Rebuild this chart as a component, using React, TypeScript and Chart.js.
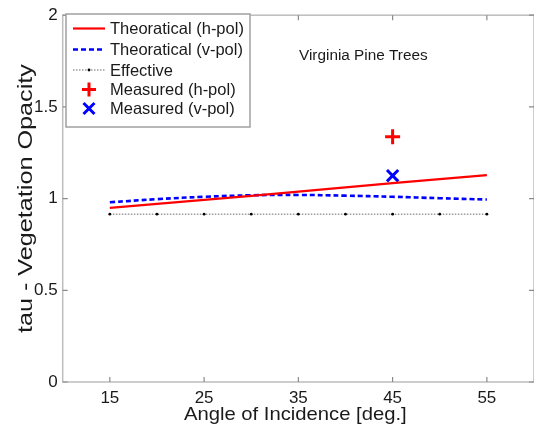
import React, { useEffect, useRef } from "react";
import { Chart, registerables } from "chart.js";

Chart.register(...registerables);

const angles = [15, 20, 25, 30, 35, 40, 45, 50, 55];
const hPol = [0.949, 0.971, 0.993, 1.015, 1.038, 1.061, 1.084, 1.106, 1.128];
const vPol = [0.98, 0.997, 1.01, 1.018, 1.02, 1.016, 1.01, 1.002, 0.995];
const effective = [0.915, 0.915, 0.915, 0.915, 0.915, 0.915, 0.915, 0.915, 0.915];
const measuredAngle = [45];
const measuredH = [1.337];
const measuredV = [1.125];
const xTicks = [15, 25, 35, 45, 55];
const yTicks = [0, 0.5, 1, 1.5, 2];
const xTitle = "Angle of Incidence [deg.]";
const yTitle = "tau - Vegetation Opacity";
const annotation = "Virginia Pine Trees";

const FONT = "'Liberation Sans', Arial, Helvetica, sans-serif";
const TEXT = "#1a1a1a";

function stretchedText(ctx: any, text: string, x: number, y: number, size: number, sx: number, rot = 0) {
  ctx.save();
  ctx.translate(x, y);
  if (rot) ctx.rotate(rot);
  ctx.scale(sx, 1);
  ctx.font = `${size}px ${FONT}`;
  ctx.fillStyle = TEXT;
  ctx.textAlign = "center";
  ctx.textBaseline = "alphabetic";
  ctx.fillText(text, 0, 0);
  ctx.restore();
}

const framePlugin = {
  id: "frame",
  afterDatasetsDraw(chart: any) {
    const { ctx, chartArea: a, scales } = chart;
    const xs = scales.x;
    const ys = scales.y;
    ctx.save();
    ctx.strokeStyle = "#bdbdbd";
    ctx.lineWidth = 1.5;
    ctx.strokeRect(a.left, a.top, a.right - a.left, a.bottom - a.top);
    ctx.lineWidth = 1.2;
    ctx.strokeStyle = "#8a8a8a";
    const tl = 5;
    ctx.beginPath();
    for (const v of xTicks) {
      const px = xs.getPixelForValue(v);
      ctx.moveTo(px, a.bottom);
      ctx.lineTo(px, a.bottom - tl);
      ctx.moveTo(px, a.top);
      ctx.lineTo(px, a.top + tl);
    }
    for (const v of yTicks) {
      const py = ys.getPixelForValue(v);
      ctx.moveTo(a.left, py);
      ctx.lineTo(a.left + tl, py);
      ctx.moveTo(a.right, py);
      ctx.lineTo(a.right - tl, py);
    }
    ctx.stroke();
    ctx.restore();
  },
};

const textPlugin = {
  id: "texts",
  afterDraw(chart: any) {
    const { ctx, chartArea: a } = chart;
    const ds = chart.data.datasets;
    ctx.save();
    // legend
    const bx = 66, by = 14, bw = 184, bh = 113;
    ctx.fillStyle = "#ffffff";
    ctx.fillRect(bx, by, bw, bh);
    ctx.strokeStyle = "#a0a0a0";
    ctx.lineWidth = 1.5;
    ctx.strokeRect(bx, by, bw, bh);
    ctx.font = `16.5px ${FONT}`;
    ctx.textBaseline = "middle";
    ctx.textAlign = "left";
    const rows = [28.5, 49.5, 70, 89.5, 108.5];
    ds.forEach((d: any, i: number) => {
      const y = rows[i];
      const x0 = 73, x1 = 105, xm = 89;
      if (i < 3) {
        ctx.save();
        ctx.strokeStyle = d.borderColor;
        ctx.lineWidth = d.borderWidth;
        ctx.setLineDash(d.borderDash || []);
        ctx.beginPath();
        ctx.moveTo(x0, y);
        ctx.lineTo(x1, y);
        ctx.stroke();
        ctx.restore();
        if (i === 2) {
          ctx.fillStyle = "#000";
          ctx.beginPath();
          ctx.arc(xm, y, 1.4, 0, Math.PI * 2);
          ctx.fill();
        }
      } else {
        ctx.save();
        ctx.strokeStyle = d.borderColor;
        ctx.lineWidth = 3;
        ctx.beginPath();
        if (d.pointStyle === "cross") {
          ctx.moveTo(xm - 7, y);
          ctx.lineTo(xm + 7, y);
          ctx.moveTo(xm, y - 7);
          ctx.lineTo(xm, y + 7);
        } else {
          ctx.moveTo(xm - 5.5, y - 5.5);
          ctx.lineTo(xm + 5.5, y + 5.5);
          ctx.moveTo(xm + 5.5, y - 5.5);
          ctx.lineTo(xm - 5.5, y + 5.5);
        }
        ctx.stroke();
        ctx.restore();
      }
      ctx.fillStyle = TEXT;
      ctx.fillText(d.label, 110, y + 1);
    });
    ctx.restore();
    // annotation
    ctx.save();
    ctx.font = `14px ${FONT}`;
    ctx.fillStyle = TEXT;
    ctx.textAlign = "left";
    ctx.textBaseline = "middle";
    ctx.translate(299, 56);
    ctx.scale(1.095, 1);
    ctx.fillText(annotation, 0, 0);
    ctx.restore();
    // axis titles
    const cx = (a.left + a.right) / 2;
    const cy = (a.top + a.bottom) / 2;
    stretchedText(ctx, xTitle, cx - 3, 420, 18.5, 1.094);
    stretchedText(ctx, yTitle, 32, cy, 21, 1.2, -Math.PI / 2);
  },
};

export default function App() {
  const ref = useRef<HTMLCanvasElement>(null);
  useEffect(() => {
    if (!ref.current) return;
    const pts = (ys: number[], xsArr: number[] = angles) => xsArr.map((x, i) => ({ x, y: ys[i] }));
    const chart = new Chart(ref.current, {
      type: "line",
      data: {
        datasets: [
          {
            label: "Theoratical (h-pol)",
            data: pts(hPol),
            borderColor: "#ff0000",
            borderWidth: 2.2,
            pointRadius: 0,
            tension: 0,
          },
          {
            label: "Theoratical (v-pol)",
            data: pts(vPol),
            borderColor: "#0000ff",
            borderWidth: 2.6,
            borderDash: [5, 3],
            pointRadius: 0,
            tension: 0.4,
          },
          {
            label: "Effective",
            data: pts(effective),
            borderColor: "#9a9a9a",
            borderWidth: 1.5,
            borderDash: [1.5, 1.5],
            pointRadius: 1.4,
            pointBackgroundColor: "#000",
            pointBorderColor: "#000",
            pointBorderWidth: 0,
          },
          {
            label: "Measured (h-pol)",
            data: pts(measuredH, measuredAngle),
            borderColor: "#ff0000",
            backgroundColor: "#ff0000",
            showLine: false,
            pointStyle: "cross",
            pointRadius: 7.5,
            pointBorderWidth: 3,
          },
          {
            label: "Measured (v-pol)",
            data: pts(measuredV, measuredAngle),
            borderColor: "#0000ff",
            backgroundColor: "#0000ff",
            showLine: false,
            pointStyle: "crossRot",
            pointRadius: 8,
            pointBorderWidth: 3,
          },
        ] as any,
      },
      options: {
        animation: false,
        responsive: false,
        layout: { padding: { left: 0, right: 7.5, top: 11, bottom: 0 } },
        plugins: { legend: { display: false }, tooltip: { enabled: false } },
        scales: {
          x: {
            type: "linear",
            min: 10,
            max: 60,
            grid: { display: false, drawTicks: false },
            border: { display: false },
            afterBuildTicks: (s: any) => {
              s.ticks = xTicks.map((v) => ({ value: v }));
            },
            afterFit: (s: any) => {
              s.height = 49;
            },
            ticks: {
              font: { family: FONT, size: 17 },
              color: TEXT,
              padding: 6,
              maxRotation: 0,
              autoSkip: false,
              callback: (v: any) => String(v),
            },
          },
          y: {
            type: "linear",
            min: 0,
            max: 2,
            grid: { display: false, drawTicks: false },
            border: { display: false },
            afterBuildTicks: (s: any) => {
              s.ticks = yTicks.map((v) => ({ value: v }));
            },
            afterFit: (s: any) => {
              s.width = 62.7;
            },
            ticks: {
              font: { family: FONT, size: 17 },
              color: TEXT,
              padding: 5,
              callback: (v: any) => String(v),
            },
          },
        },
      } as any,
      plugins: [framePlugin, textPlugin],
    });
    return () => chart.destroy();
  }, []);
  return (
    <div style={{ position: "fixed", left: 0, top: 0, width: 534, height: 431, overflow: "hidden", background: "#fff" }}>
      <canvas ref={ref} width={545} height={431} style={{ display: "block" }} />
    </div>
  );
}
